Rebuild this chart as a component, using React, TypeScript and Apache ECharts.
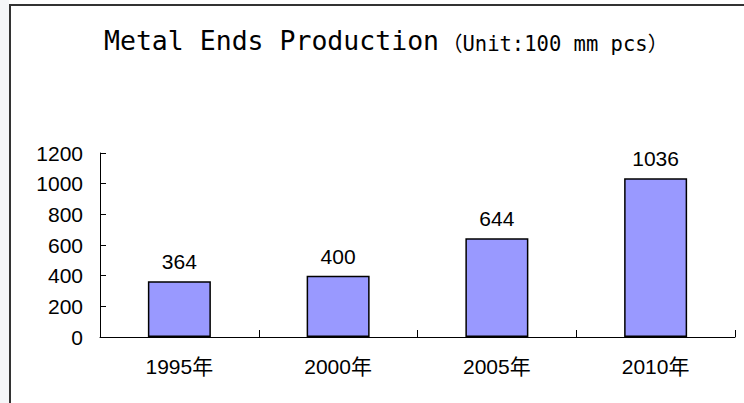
import React, { useEffect, useRef } from "react";
import * as echarts from "echarts";

// Production by year (unit: 100 mm pcs)
const years = ["1995年", "2000年", "2005年", "2010年"];
const production = [364, 400, 644, 1036];

// Value axis range
const yMin = 0;
const yMax = 1200;
const yStep = 200;

const titleMain = "Metal Ends Production";
const titleUnit = "（Unit:100 mm pcs）";

const sansFont = "'Liberation Sans', Arial, 'Noto Sans CJK SC', sans-serif";
const monoFont = "'DejaVu Sans Mono', 'Noto Sans CJK SC', monospace";

export default function App() {
  const ref = useRef<HTMLDivElement>(null);

  useEffect(() => {
    if (!ref.current) return;
    const chart = echarts.init(ref.current, undefined, { renderer: "svg" });

    chart.setOption({
      animation: false,
      backgroundColor: "#ffffff",
      graphic: [
        {
          type: "rect",
          shape: { x: 0, y: 0, width: 9, height: 403 },
          style: { fill: "#f5f6f8" },
          silent: true,
        },
        {
          type: "rect",
          shape: { x: 10, y: 5, width: 800, height: 500 },
          style: { fill: "none", stroke: "#333333", lineWidth: 2 },
          silent: true,
        },
        {
          type: "text",
          x: 104,
          y: 40,
          style: {
            text: titleMain,
            font: `26.5px ${monoFont}`,
            fill: "#000000",
            verticalAlign: "middle",
            align: "left",
          },
        },
        {
          type: "text",
          x: 442,
          y: 44,
          style: {
            text: titleUnit,
            font: `20.5px ${monoFont}`,
            fill: "#000000",
            verticalAlign: "middle",
            align: "left",
          },
        },
      ],
      grid: { left: 100, right: 9, top: 153, bottom: 66, containLabel: false },
      xAxis: {
        type: "category",
        data: years,
        boundaryGap: true,
        axisLine: { show: true, lineStyle: { color: "#000000", width: 1 } },
        axisTick: { show: true, inside: true, length: 7, lineStyle: { color: "#000000" } },
        axisLabel: {
          fontSize: 21,
          color: "#000000",
          fontFamily: sansFont,
          margin: 19,
        },
        splitLine: { show: false },
      },
      yAxis: {
        type: "value",
        min: yMin,
        max: yMax,
        interval: yStep,
        axisLine: { show: true, lineStyle: { color: "#000000", width: 1 } },
        axisTick: { show: true, inside: true, length: 6, lineStyle: { color: "#000000" } },
        axisLabel: {
          fontSize: 21,
          color: "#000000",
          fontFamily: sansFont,
          margin: 17,
          padding: [5, 0, 0, 0],
          formatter: (v: number) => String(v),
        },
        splitLine: { show: false },
      },
      series: [
        {
          type: "bar",
          data: production,
          barWidth: 63,
          itemStyle: { color: "#9999FF", borderColor: "#000000", borderWidth: 1.5 },
          label: {
            show: true,
            position: "top",
            distance: 9,
            fontSize: 21,
            color: "#000000",
            fontFamily: sansFont,
          },
        },
      ],
    });

    return () => chart.dispose();
  }, []);

  return (
    <div
      ref={ref}
      style={{ position: "fixed", left: 0, top: 0, width: 744, height: 403 }}
    />
  );
}
